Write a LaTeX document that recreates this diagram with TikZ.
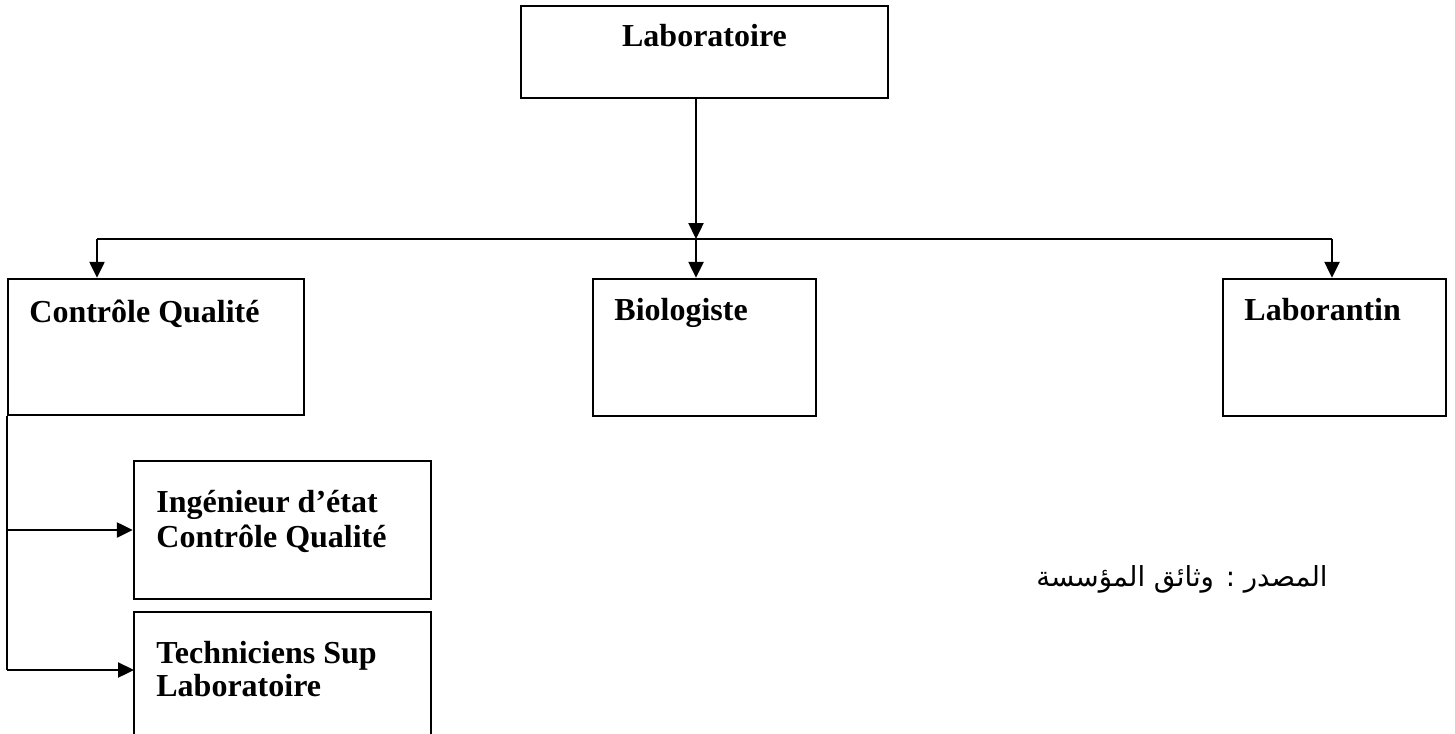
\documentclass[tikz,border=0pt]{standalone}
\usepackage{fontspec}
\setmainfont{Liberation Serif}
\newfontfamily\arabicfont[Script=Arabic]{DejaVu Sans}
\TeXXeTstate=1
\usetikzlibrary{arrows.meta}
\begin{document}
\begin{tikzpicture}[x=0.5pt,y=-0.5pt,
  box/.style={draw=black, line width=1.2pt, rectangle, inner sep=0pt},
  lbl/.style={font=\fontsize{16}{17.5}\selectfont\bfseries, inner sep=0pt, align=left},
  conn/.style={line width=1.2pt},
  arr/.style={line width=1.2pt, -{Triangle[length=8pt,width=7.5pt]}}]
\useasboundingbox (0,0) rectangle (1455,733);
\clip (0,0) rectangle (1455,733);

% boxes (positions in pixels)
\node[box, minimum width=183.5pt, minimum height=46pt] (lab) at (704.5,52) {};
\node[box, minimum width=148pt, minimum height=68pt] (cq) at (156,347) {};
\node[box, minimum width=111.5pt, minimum height=68.5pt] (bio) at (704.5,347.5) {};
\node[box, minimum width=111.5pt, minimum height=68.5pt] (lbn) at (1334.5,347.5) {};
\node[box, minimum width=148.5pt, minimum height=69pt] (ing) at (282.5,530) {};
\node[box, minimum width=148.5pt, minimum height=75pt] (tec) at (282.5,687) {};

% box texts
\node[lbl, anchor=base] (labt) at (704.5,47) {Laboratoire};
\node[lbl, anchor=base west] (cqt) at (29,322) {Contrôle Qualité};
\node[lbl, anchor=base west] (biot) at (614,320) {Biologiste};
\node[lbl, anchor=base west] (lbnt) at (1244,320) {Laborantin};
\node[lbl, anchor=base west] (ingt1) at (156,512) {Ingénieur d’état};
\node[lbl, anchor=base west] (ingt2) at (156,547) {Contrôle Qualité};
\node[lbl, anchor=base west] (tect1) at (156,663) {Techniciens Sup};
\node[lbl, anchor=base west] (tect2) at (156,696) {Laboratoire};

% source note
\node[anchor=base east, inner sep=0pt, font=\fontsize{13.8}{16}\selectfont] (src) at (1328,586)
  {\arabicfont\beginR المصدر : وثائق المؤسسة\endR};

% distribution bus
\coordinate (bus) at (696,239);
\coordinate (busl) at (97,239);
\coordinate (busr) at (1332,239);
\coordinate (tarr) at (134,670);

\draw[arr] (bus |- lab.south) -- (bus);
\draw[conn] (busl) -- (busr);
\draw[arr] (busl) -- (busl |- cq.north);
\draw[arr] (bus) -- (bus |- bio.north);
\draw[arr] (busr) -- (busr |- lbn.north);

% sub-units of quality control
\draw[conn] (cq.south west) -- (cq.south west |- tarr);
\draw[arr] (cq.south west |- ing.west) -- (ing.west);
\draw[arr] (cq.south west |- tarr) -- (tarr);
\end{tikzpicture}
\end{document}
